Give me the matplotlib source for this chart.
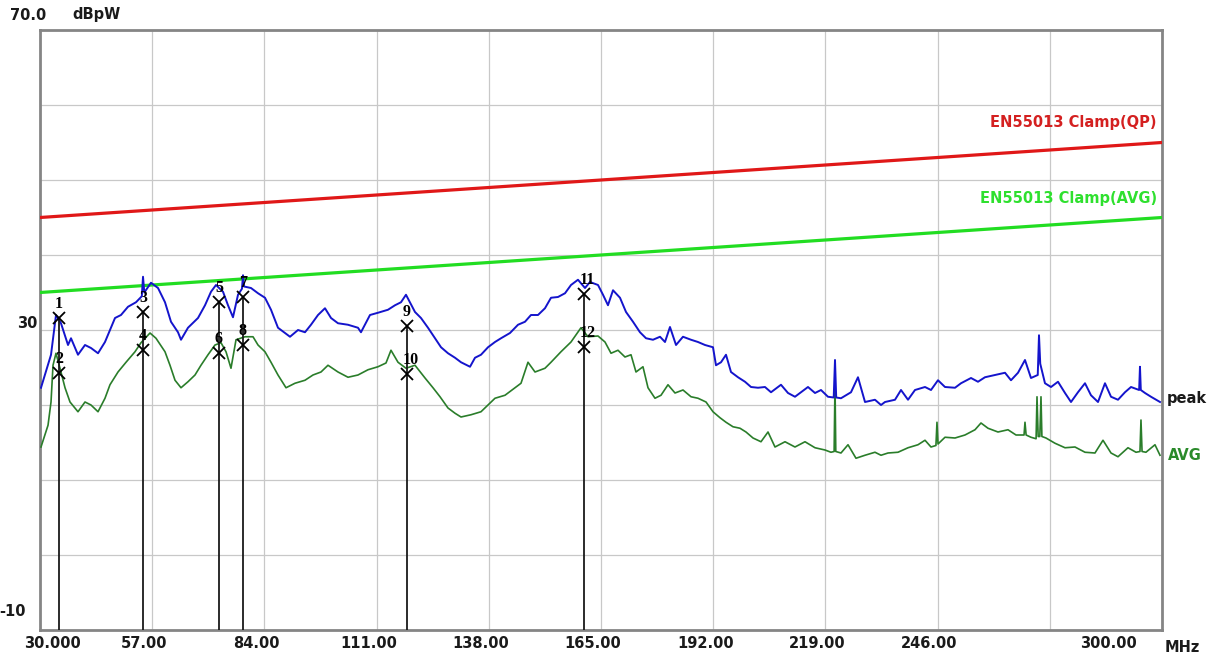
import matplotlib
matplotlib.use("Agg")
import matplotlib.pyplot as plt
from matplotlib.transforms import ScaledTranslation

# ---------------- data ----------------
x_ticks = [30, 57, 84, 111, 138, 165, 192, 219, 246, 273, 300]
x_tick_labels = ["30.000", "57.00", "84.00", "111.00", "138.00", "165.00",
                 "192.00", "219.00", "246.00", "", "300.00"]
y_grid = [-10, 0, 10, 20, 30, 40, 50, 60, 70]

limit_freq = [30, 300]
limit_qp = [45, 55]
limit_avg = [35, 45]

peak_freq = [30.24, 32.65, 33.85, 35.05, 36.74, 37.46, 39.14, 40.83, 42.27, 43.96,
             45.64, 48.05, 49.49, 51.18, 53.10, 54.5, 54.79, 55.1, 56.71, 58.40,
             60.08, 61.52, 63.21, 63.93, 65.61, 68.02, 69.71, 71.15, 72.35, 74.04,
             75.24, 76.44, 77.65, 78.6, 78.85, 79.1, 80.77, 82.46, 84.14, 85.59,
             87.27, 88.96, 90.16, 92.09, 93.77, 95.21, 96.90, 98.58, 100.03, 101.71,
             104.12, 106.52, 107.24, 109.41, 111.33, 113.74, 115.43, 116.87, 118.07, 120.24,
             121.68, 123.37, 125.05, 126.50, 128.18, 129.87, 131.31, 133.48, 134.68, 136.12,
             137.81, 139.49, 140.94, 143.10, 145.03, 146.71, 148.15, 149.84, 151.52, 152.97,
             154.65, 156.34, 157.78, 159.46, 161.15, 162.35, 164.28, 165.48, 166.68, 167.89,
             169.57, 171.02, 172.70, 174.38, 175.83, 177.51, 179.20, 180.40, 181.60, 183.05,
             184.73, 186.66, 188.34, 190.03, 191.95, 192.67, 193.88, 195.08, 196.28, 197.97,
             199.65, 201.10, 202.78, 204.46, 205.91, 208.31, 210.00, 211.68, 213.13, 214.81,
             216.50, 217.94, 219.62, 221.0, 221.31, 221.6, 222.75, 225.16, 226.84, 228.53,
             230.93, 232.38, 233.34, 235.75, 237.19, 238.88, 240.56, 242.97, 244.41, 246.09,
             247.78, 250.19, 251.63, 254.04, 255.72, 257.40, 259.81, 262.22, 263.66, 265.35,
             267.03, 268.47, 270.1, 270.40, 270.7, 271.84, 273.29, 274.97, 276.66, 278.10,
             279.78, 281.47, 282.91, 284.60, 286.28, 287.73, 289.41, 291.09, 292.54, 294.5,
             294.70, 294.9, 295.91, 297.35, 299.52]
peak_level = [22.3, 26.7, 32.0, 30.9, 28.0, 28.9, 26.7, 28.0, 27.6, 26.9,
              28.4, 31.6, 32.0, 33.1, 33.7, 34.5, 37.1, 35.0, 36.3, 35.6,
              33.7, 31.1, 29.7, 28.7, 30.3, 31.6, 33.3, 35.1, 36.0, 35.1,
              33.3, 31.7, 34.7, 35.5, 37.3, 35.8, 35.6, 34.9, 34.3, 32.7,
              30.3, 29.6, 29.1, 30.0, 29.7, 30.7, 32.0, 32.9, 31.6, 30.9,
              30.7, 30.3, 29.7, 32.0, 32.3, 32.7, 33.3, 33.7, 34.7, 32.4,
              31.6, 30.3, 28.9, 27.7, 26.9, 26.3, 25.7, 25.1, 26.3, 26.7,
              27.7, 28.4, 28.9, 29.6, 30.7, 31.1, 32.0, 32.0, 32.9, 34.3,
              34.4, 34.9, 36.0, 36.7, 35.6, 36.4, 36.0, 34.7, 33.3, 35.3,
              34.3, 32.4, 31.1, 29.7, 28.9, 28.7, 29.1, 28.4, 30.4, 28.0,
              29.1, 28.7, 28.4, 28.0, 27.7, 25.3, 25.7, 26.7, 24.4, 23.7,
              23.1, 22.4, 22.3, 22.4, 21.7, 22.7, 21.6, 21.1, 21.7, 22.4,
              21.6, 22.0, 21.1, 21.0, 26.0, 21.0, 20.9, 21.7, 23.7, 20.4,
              20.7, 20.0, 20.4, 20.7, 22.0, 20.7, 22.0, 22.4, 22.0, 23.3,
              22.4, 22.3, 22.9, 23.6, 23.1, 23.7, 24.0, 24.3, 23.3, 24.3,
              26.0, 23.6, 24.0, 29.3, 25.5, 22.9, 22.4, 23.1, 21.6, 20.4,
              21.7, 22.9, 21.3, 20.4, 22.9, 21.1, 20.7, 21.7, 22.4, 22.0,
              25.1, 22.0, 21.6, 21.1, 20.4]

avg_freq = [30.24, 31.93, 32.65, 33.13, 33.85, 34.81, 36.02, 37.22, 39.14, 40.83,
            42.27, 43.96, 45.64, 46.84, 48.77, 50.70, 52.86, 54.30, 56.47, 57.91,
            60.08, 61.28, 62.49, 63.93, 65.61, 67.30, 68.74, 70.43, 72.11, 73.56,
            74.76, 75.96, 77.17, 79.33, 81.26, 82.46, 84.14, 85.59, 87.27, 89.20,
            91.36, 93.77, 95.69, 97.62, 99.30, 101.71, 104.12, 106.52, 108.93, 111.33,
            113.26, 114.46, 116.15, 118.07, 120.24, 122.65, 124.57, 126.26, 128.18, 129.87,
            131.31, 133.72, 136.12, 137.81, 139.49, 141.90, 144.30, 145.75, 147.43, 149.12,
            151.52, 152.97, 155.37, 157.78, 160.18, 161.87, 164.28, 165.96, 167.41, 169.09,
            170.77, 172.22, 173.42, 175.10, 176.31, 177.99, 179.44, 181.12, 182.81, 184.73,
            186.66, 188.34, 190.27, 191.95, 193.64, 195.08, 196.76, 198.45, 199.89, 201.58,
            203.50, 205.19, 206.87, 209.28, 211.68, 214.09, 216.50, 218.90, 220.34, 221.1,
            221.31, 221.5, 222.75, 224.44, 226.36, 228.53, 230.93, 232.38, 234.07, 236.47,
            238.88, 241.28, 242.97, 244.41, 245.6, 245.85, 246.1, 247.78, 250.19, 252.59,
            255.00, 256.44, 258.13, 260.53, 262.94, 264.87, 266.8, 267.03, 267.3, 268.47,
            269.7, 269.92, 270.2, 270.6, 270.88, 271.1, 272.08, 274.25, 276.66, 279.06,
            281.47, 283.87, 285.80, 287.73, 289.41, 291.81, 293.74, 294.7, 294.94, 295.2,
            296.14, 298.31, 299.52]
avg_level = [14.4, 17.3, 20.4, 25.3, 26.9, 24.9, 22.3, 20.4, 19.1, 20.4,
             20.0, 19.1, 20.9, 22.7, 24.4, 25.7, 27.1, 28.3, 29.6, 28.9,
             27.1, 25.3, 23.3, 22.3, 23.1, 24.0, 25.3, 26.7, 28.0, 28.3,
             27.1, 24.9, 28.7, 29.1, 29.1, 28.0, 27.1, 25.7, 24.0, 22.3,
             22.9, 23.3, 24.0, 24.4, 25.3, 24.4, 23.7, 24.0, 24.7, 25.1,
             25.6, 27.3, 25.7, 24.9, 25.3, 23.6, 22.3, 21.1, 19.6, 18.9,
             18.4, 18.7, 19.1, 20.0, 20.9, 21.3, 22.3, 22.9, 25.7, 24.4,
             24.9, 25.7, 27.1, 28.4, 30.3, 29.1, 29.2, 28.4, 26.9, 27.3,
             26.4, 26.7, 24.4, 25.1, 22.3, 20.9, 21.3, 22.7, 21.6, 22.0,
             21.1, 20.9, 20.4, 19.1, 18.3, 17.7, 17.1, 16.9, 16.4, 15.6,
             15.1, 16.4, 14.4, 15.1, 14.4, 15.1, 14.3, 14.0, 13.7, 13.8,
             22.9, 13.8, 13.6, 14.7, 12.9, 13.3, 13.7, 13.3, 13.6, 13.7,
             14.3, 14.7, 15.3, 14.4, 14.6, 17.7, 14.8, 15.7, 15.6, 16.0,
             16.7, 17.6, 16.9, 16.4, 16.7, 16.0, 16.0, 17.7, 16.0, 15.7,
             15.5, 21.1, 15.8, 15.8, 21.1, 15.8, 15.6, 14.9, 14.3, 14.4,
             13.7, 13.6, 15.3, 13.6, 13.1, 14.3, 13.7, 13.8, 18.0, 13.8,
             13.7, 14.7, 13.3]

marker_freq = [34.57, 34.57, 54.79, 54.79, 73.07, 73.07, 78.85, 78.85,
               118.30, 118.30, 160.90, 160.90]
marker_level = [31.6, 24.3, 32.4, 27.3, 33.7, 26.9, 34.4, 28.0,
                30.6, 24.2, 34.8, 27.7]
marker_labels = ["1", "2", "3", "4", "5", "6", "7", "8", "9", "10", "11", "12"]

# ---------------- figure ----------------
W, H = 1212, 658
fig = plt.figure(figsize=(W / 100, H / 100), dpi=100)
fig.patch.set_facecolor("white")
ax = fig.add_axes([40 / W, 1 - 630 / H, 1122 / W, 600 / H])
ax.set_xlim(30, 300)
ax.set_ylim(-10, 70)

ax.set_xticks(x_ticks)
ax.set_yticks(y_grid)
ax.tick_params(length=0, labelbottom=False, labelleft=False)
ax.grid(True, color="#c8c8c8", lw=0.9)
ax.set_axisbelow(True)
for s in ax.spines.values():
    s.set_color("#858585")
    s.set_linewidth(2.0)

# limit lines
ax.plot(limit_freq, limit_qp, color="#e01818", lw=2.3, zorder=3)
ax.plot(limit_freq, limit_avg, color="#22dd22", lw=2.3, zorder=3)

# traces
ax.plot(avg_freq, avg_level, color="#2a7d2a", lw=1.2, zorder=4)
ax.plot(peak_freq, peak_level, color="#1414cc", lw=1.4, zorder=5)

# markers
pk_idx = list(range(0, len(marker_freq), 2))
for i in pk_idx:
    ax.plot([marker_freq[i], marker_freq[i]], [-10, marker_level[i]],
            color="#1a1a1a", lw=1.3, zorder=6)
ax.plot(marker_freq, marker_level, ls="none", marker="x", ms=8, mew=1.3,
        color="black", zorder=7)
px = 1 / 100.0
for f, v, lab in zip(marker_freq, marker_level, marker_labels):
    tr = ax.transData + ScaledTranslation(-4 * px, 6 * px, fig.dpi_scale_trans)
    ax.text(f, v, lab, transform=tr, ha="left", va="bottom",
            family="Liberation Serif", fontweight="bold", fontsize=11.5,
            color="black", zorder=8)

# limit labels
ax.text(1117 / 1122 * 270 + 30, 70 - (123 - 30) / 7.5, "EN55013 Clamp(QP)",
        color="#d42020", fontsize=10.5, fontweight="bold", ha="right",
        va="center", family="DejaVu Sans")
ax.text(1117 / 1122 * 270 + 30, 70 - (198 - 30) / 7.5, "EN55013 Clamp(AVG)",
        color="#2ee02e", fontsize=10.5, fontweight="bold", ha="right",
        va="center", family="DejaVu Sans")

# x tick labels
lab_font = dict(family="DejaVu Sans", fontweight="bold", fontsize=10.5,
                color="#1a1a1a")
xtr = ax.get_xaxis_transform()
for t, lab in zip(x_ticks, x_tick_labels):
    if not lab:
        continue
    if t == x_ticks[0]:
        dx = 12
    elif t == x_ticks[-1]:
        dx = -54
    else:
        dx = -8
    tr = xtr + ScaledTranslation(dx * px, -13 * px, fig.dpi_scale_trans)
    ax.text(t, 0, lab, transform=tr, ha="center", va="center", **lab_font)

fig.text(1165 / W, 1 - 647 / H, "MHz", ha="left", va="center", **lab_font)

# y labels
fig.text(10 / W, 1 - 15 / H, "70.0", ha="left", va="center", **lab_font)
fig.text(72 / W, 1 - 15 / H, "dBpW", ha="left", va="center", **lab_font)
fig.text(37 / W, 1 - 323 / H, "30", ha="right", va="center", **lab_font)
fig.text(26 / W, 1 - 612 / H, "-10", ha="right", va="center", **lab_font)

# trace labels
fig.text(1167 / W, 1 - 398 / H, "peak", ha="left", va="center", **lab_font)
avg_font = dict(lab_font)
avg_font["color"] = "#2a8a2a"
fig.text(1168 / W, 1 - 455 / H, "AVG", ha="left", va="center", **avg_font)

fig.savefig("out.png", dpi=100)
